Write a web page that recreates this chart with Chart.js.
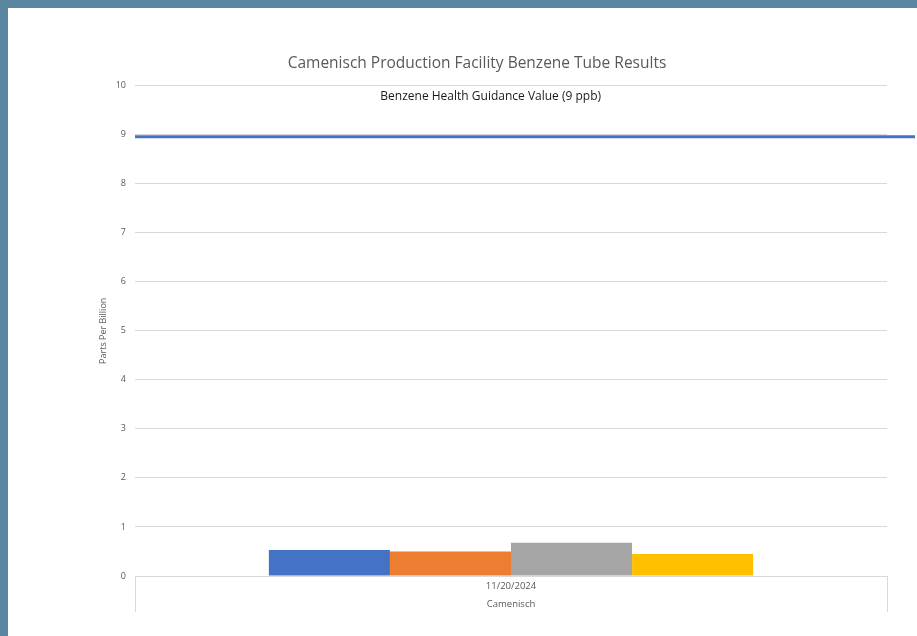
<!DOCTYPE html>
<html>
<head>
<meta charset="utf-8">
<script src="https://cdn.jsdelivr.net/npm/chart.js@4.4.1/dist/chart.umd.min.js"></script>
<style>
    html, body { margin: 0; padding: 0; background: #5b86a1; overflow: hidden; }
    .panel { position: absolute; left: 8px; top: 8px; width: 909px; height: 628px; background: #fff; }
    canvas { display: block; }
</style>
</head>
<body>
<div class="panel"><canvas id="benzeneChart" width="909" height="628"></canvas></div>
<script>
// 데이터
const categories = ['11/20/2024'];
const seriesNames = ['Tube 1', 'Tube 2', 'Tube 3', 'Tube 4'];
const seriesValues = [0.53, 0.50, 0.68, 0.45];
const seriesColors = ['#4472c4', '#ed7d31', '#a5a5a5', '#ffc000'];
const yTicks = [0, 1, 2, 3, 4, 5, 6, 7, 8, 9, 10];
const guideValue = 9;
const guideLabel = 'Benzene Health Guidance Value (9 ppb)';

// 기준선 + 라벨
const guidePlugin = {
    id: 'guideLine',
    afterDatasetsDraw(chart) {
        const { ctx, chartArea, scales } = chart;
        const y = scales.y.getPixelForValue(guideValue) + 2;
        ctx.save();
        ctx.strokeStyle = '#4472c4';
        ctx.lineWidth = 3;
        ctx.beginPath();
        ctx.moveTo(chartArea.left, y);
        ctx.lineTo(chart.width - 2, y);
        ctx.stroke();
        ctx.fillStyle = '#1a1a1a';
        ctx.font = '12px "Open Sans", sans-serif';
        ctx.textAlign = 'center';
        ctx.textBaseline = 'middle';
        ctx.fillText(guideLabel, chartArea.left + chartArea.width * 0.473, y - 40);
        ctx.restore();
    },
};

const ctx = document.getElementById('benzeneChart').getContext('2d');
const benzeneChart = new Chart(ctx, {
    type: 'bar',
    data: {
        labels: categories,
        datasets: seriesValues.map((v, i) => ({
            label: seriesNames[i],
            data: [v],
            backgroundColor: seriesColors[i],
            barPercentage: 1,
            categoryPercentage: 0.644,
        })),
    },
    options: {
        responsive: false,
        animation: false,
        layout: { padding: { left: 59, right: 30, top: 0, bottom: 0 } },
        plugins: {
            legend: { display: false },
            tooltip: { enabled: false },
            title: {
                display: true,
                text: 'Camenisch Production Facility Benzene Tube Results',
                color: '#595959',
                font: { family: '"Open Sans", sans-serif', size: 15.5, weight: 'normal' },
                padding: { top: 46, bottom: 13 },
            },
        },
        scales: {
            x: {
                grid: {
                    drawOnChartArea: false,
                    color: '#d9d9d9',
                    tickLength: 36,
                },
                border: { color: '#d9d9d9' },
                ticks: {
                    color: '#595959',
                    font: { family: '"Open Sans", sans-serif', size: 9.5 },
                    padding: -31,
                },
                title: {
                    display: true,
                    text: 'Camenisch',
                    color: '#595959',
                    font: { family: '"Open Sans", sans-serif', size: 9.5 },
                    padding: { top: 0, bottom: 26 },
                },
                afterFit(scale) { scale.height = 60; },
            },
            y: {
                min: 0,
                max: 10,
                afterBuildTicks(scale) { scale.ticks = yTicks.map((v) => ({ value: v })); },
                grid: { color: '#d9d9d9', drawTicks: false },
                border: { display: false },
                ticks: {
                    color: '#595959',
                    font: { family: '"Open Sans", sans-serif', size: 9 },
                    padding: 9,
                },
                title: {
                    display: true,
                    text: 'Parts Per Billion',
                    color: '#595959',
                    font: { family: '"Open Sans", sans-serif', size: 9 },
                    padding: { top: 31, bottom: 0 },
                },
                afterFit(scale) { scale.width = 68; },
            },
        },
    },
    plugins: [guidePlugin],
});
</script>
</body>
</html>
